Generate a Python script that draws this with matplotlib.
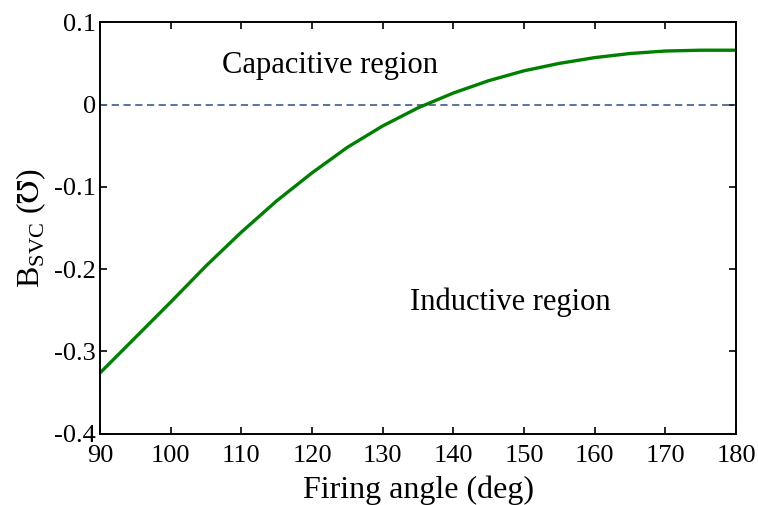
import numpy as np
import matplotlib
matplotlib.use('Agg')
import matplotlib.pyplot as plt

plt.rcParams['font.family'] = ['Liberation Serif', 'DejaVu Serif']
plt.rcParams['mathtext.fontset'] = 'custom'
plt.rcParams['mathtext.rm'] = 'Liberation Serif'
plt.rcParams['mathtext.fallback'] = 'stix'

# SVC susceptance versus thyristor firing angle
alpha_deg = [90, 95, 100, 105, 110, 115, 120, 125, 130, 135,
             140, 145, 150, 155, 160, 165, 170, 175, 180]
b_svc = [-0.326, -0.283, -0.240, -0.196, -0.155, -0.117, -0.083, -0.052,
         -0.026, -0.004, 0.014, 0.029, 0.041, 0.050, 0.057, 0.062,
         0.065, 0.066, 0.066]

xticks = [90, 100, 110, 120, 130, 140, 150, 160, 170, 180]
yticks = [-0.4, -0.3, -0.2, -0.1, 0, 0.1]
ytick_labels = ['-0.4', '-0.3', '-0.2', '-0.1', '0', '0.1']

fig = plt.figure(figsize=(7.58, 5.05), dpi=100)
ax = fig.add_axes([0.132, 0.141, 0.839, 0.815])

ax.axhline(0, color='#4a6a9a', lw=1.3, ls=(0, (4, 2.5)))
ax.plot(alpha_deg, b_svc, color='#008000', lw=2.4)

ax.text(122.5, 0.048, 'Capacitive region', fontsize=22, ha='center', va='center')
ax.text(148, -0.240, 'Inductive region', fontsize=22, ha='center', va='center')

ax.set_xlim(90, 180)
ax.set_ylim(-0.4, 0.1)
ax.set_xticks(xticks)
ax.set_yticks(yticks)
ax.set_yticklabels(ytick_labels)
ax.tick_params(direction='in', length=5, width=1.2, labelsize=19,
               top=True, right=True)
ax.tick_params(axis='x', pad=8)
ax.tick_params(axis='y', pad=3)
for sp in ax.spines.values():
    sp.set_linewidth(1.4)

ax.set_xlabel('Firing angle (deg)', fontsize=23, labelpad=6)
ax.set_ylabel(r'B$_{\mathrm{SVC}}$ ($\mho$)', fontsize=23, labelpad=4)

fig.savefig('out.png', dpi=100)
